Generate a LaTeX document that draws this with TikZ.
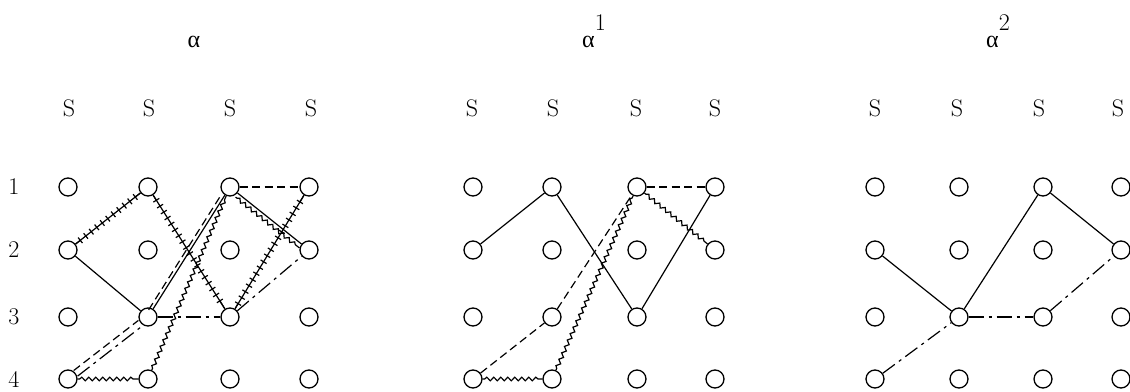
\documentclass[tikz,border=0pt]{standalone}
\usepackage{fontspec}
\newfontfamily\grk{Liberation Serif}
\usetikzlibrary{decorations.pathmorphing,decorations.pathreplacing,calc}
\begin{document}
\begin{tikzpicture}[x=1pt,y=1pt,
  pnt/.style={circle, draw, line width=1.3pt, minimum size=18pt, inner sep=0pt},
  ln/.style={line width=1.2pt},
  dsh/.style={ln, dash pattern=on 8pt off 4.5pt},
  dd/.style={ln, dash pattern=on 15pt off 5pt on 3pt off 5pt},
  wavy/.style={ln, decorate, decoration={snake, amplitude=1.8pt, segment length=7pt, pre length=2pt, post length=2pt}},
  tickmarks/.style={ln, decorate, decoration={ticks, segment length=7pt, amplitude=3.5pt, pre length=6pt, post length=6pt}},
  lbl/.style={font=\fontsize{24}{28}\selectfont, inner sep=0pt},
  ttl/.style={font=\grk\fontsize{24}{28}\selectfont, inner sep=0pt, anchor=base}]
\useasboundingbox (0,0) rectangle (1130,391);
% grids
\foreach \c/\x in {1/68,2/148,3/230,4/309}
  \foreach \r/\y in {1/204,2/141,3/74,4/12}
    \node[pnt] (a\r\c) at (\x,\y) {};
\foreach \c/\x in {1/473,2/552,3/637,4/715}
  \foreach \r/\y in {1/204,2/141,3/74,4/12}
    \node[pnt] (b\r\c) at (\x,\y) {};
\foreach \c/\x in {1/875,2/959,3/1043,4/1121}
  \foreach \r/\y in {1/204,2/141,3/74,4/12}
    \node[pnt] (c\r\c) at (\x,\y) {};
% S labels
\foreach \c/\x in {1/69,2/149,3/230,4/311}
  \node[lbl] (sa\c) at (\x,283) {S};
\foreach \c/\x in {1/472,2/553,3/636,4/715}
  \node[lbl] (sb\c) at (\x,283) {S};
\foreach \c/\x in {1/875,2/957,3/1039,4/1118}
  \node[lbl] (sc\c) at (\x,283) {S};
% row numbers
\foreach \r/\y in {1/204,2/141,3/74,4/12}
  \node[lbl] (row\r) at (14,\y) {\r};
% titles
\node[ttl] (ta) at (194,343) {α};
\node[ttl] (tb) at (594,343) {α\raisebox{17pt}{\rmfamily 1}};
\node[ttl] (tc) at (998,343) {α\raisebox{17pt}{\rmfamily 2}};

% ---- panel alpha
\draw[ln] (a21) -- (a12);
\draw[tickmarks] (a21) -- (a12);
\draw[ln] (a12) -- (a33);
\draw[tickmarks] (a12) -- (a33);
\draw[ln] (a33) -- (a14);
\draw[tickmarks] (a33) -- (a14);
\draw[ln] (a21) -- (a32);
\draw[ln] (a32) -- (a13);
\draw[dsh, transform canvas={shift={(-4.5pt,-1pt)}}] (a32) -- (a13);
\draw[ln] (a13) -- (a24);
\draw[wavy, transform canvas={shift={(-2pt,-4pt)}}] (a13) -- (a24);
\draw[dsh] (a13) -- (a14);
\draw[dd] (a32) -- (a33);
\draw[dd] (a33) -- (a24);
\draw[dsh, transform canvas={shift={(-2pt,2.5pt)}}] (a41) -- (a32);
\draw[dd, transform canvas={shift={(2pt,-3pt)}}] (a41) -- (a32);
\draw[wavy] (a42) -- (a13);
\draw[wavy] (a41) -- (a42);

% ---- panel alpha 1
\draw[ln] (b21) -- (b12);
\draw[ln] (b12) -- (b33);
\draw[ln] (b33) -- (b14);
\draw[dsh] (b13) -- (b14);
\draw[wavy] (b13) -- (b24);
\draw[dsh] (b41) -- (b32);
\draw[dsh] (b32) -- (b13);
\draw[wavy] (b42) -- (b13);
\draw[wavy] (b41) -- (b42);

% ---- panel alpha 2
\draw[ln] (c21) -- (c32);
\draw[ln] (c32) -- (c13);
\draw[ln] (c13) -- (c24);
\draw[dd] (c32) -- (c33);
\draw[dd] (c33) -- (c24);
\draw[dd] (c41) -- (c32);
\end{tikzpicture}
\end{document}
